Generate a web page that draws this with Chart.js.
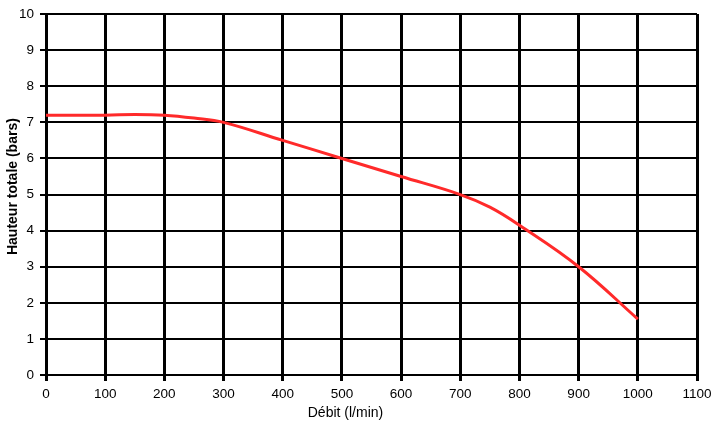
<!DOCTYPE html>
<html>
<head>
<meta charset="utf-8">
<script src="https://cdn.jsdelivr.net/npm/chart.js@4.4.0/dist/chart.umd.min.js"></script>
<style>
  html, body { margin: 0; padding: 0; background: #fff; }
  #wrap { width: 720px; height: 427px; }
</style>
</head>
<body>
<div id="wrap"><canvas id="pump" width="720" height="427"></canvas></div>
<script>
// courbe débit / hauteur totale
const flowRates = [0, 100, 150, 200, 250, 300, 400, 500, 600, 700, 750, 800, 900, 1000];
const headBars = [7.2, 7.2, 7.22, 7.2, 7.12, 7.0, 6.5, 6.0, 5.5, 5.0, 4.65, 4.15, 3.0, 1.55];
const xTicks = [0, 100, 200, 300, 400, 500, 600, 700, 800, 900, 1000, 1100];
const yTicks = [0, 1, 2, 3, 4, 5, 6, 7, 8, 9, 10];
const xTitle = 'Débit (l/min)';
const yTitle = 'Hauteur totale (bars)';

const points = flowRates.map((q, i) => ({ x: q, y: headBars[i] }));
const family = 'Liberation Sans, Arial, sans-serif';
const font = { family: family, size: 13.5 };

// axis titles drawn by hand: in the original they sit a bit off-centre
const axisTitles = {
  id: 'axisTitles',
  afterDraw(chart) {
    const ctx = chart.ctx;
    const area = chart.chartArea;
    ctx.save();
    ctx.fillStyle = '#000';
    ctx.textAlign = 'center';
    ctx.textBaseline = 'middle';
    ctx.font = '14px ' + family;
    ctx.fillText(xTitle, area.left + (area.right - area.left) * 0.46, 413);
    ctx.translate(13, area.top + (area.bottom - area.top) * 0.478);
    ctx.rotate(-Math.PI / 2);
    ctx.font = 'bold 14px ' + family;
    ctx.fillText(yTitle, 0, 0);
    ctx.restore();
  }
};

new Chart(document.getElementById('pump'), {
  type: 'line',
  data: {
    datasets: [{
      data: points,
      borderColor: '#ff2a2a',
      borderWidth: 3,
      pointRadius: 0,
      tension: 0.4,
      fill: false
    }]
  },
  options: {
    responsive: false,
    animation: false,
    layout: { padding: { top: 12, right: 23, left: 0, bottom: 0 } },
    plugins: { legend: { display: false }, tooltip: { enabled: false } },
    scales: {
      x: {
        type: 'linear',
        min: 0,
        max: 1100,
        afterBuildTicks: s => { s.ticks = xTicks.map(v => ({ value: v })); },
        afterFit: s => { s.height = 52; },
        grid: { color: '#000', lineWidth: 3, tickLength: 6 },
        border: { display: false },
        ticks: { color: '#000', font: font, padding: 5, maxRotation: 0, callback: v => String(v) }
      },
      y: {
        min: 0,
        max: 10,
        afterBuildTicks: s => { s.ticks = yTicks.map(v => ({ value: v })); },
        afterFit: s => { s.width = 46; },
        grid: { color: '#000', lineWidth: 2, tickLength: 6 },
        border: { display: false },
        ticks: { color: '#000', font: font, padding: 6, callback: v => String(v) }
      }
    }
  },
  plugins: [axisTitles]
});
</script>
</body>
</html>
